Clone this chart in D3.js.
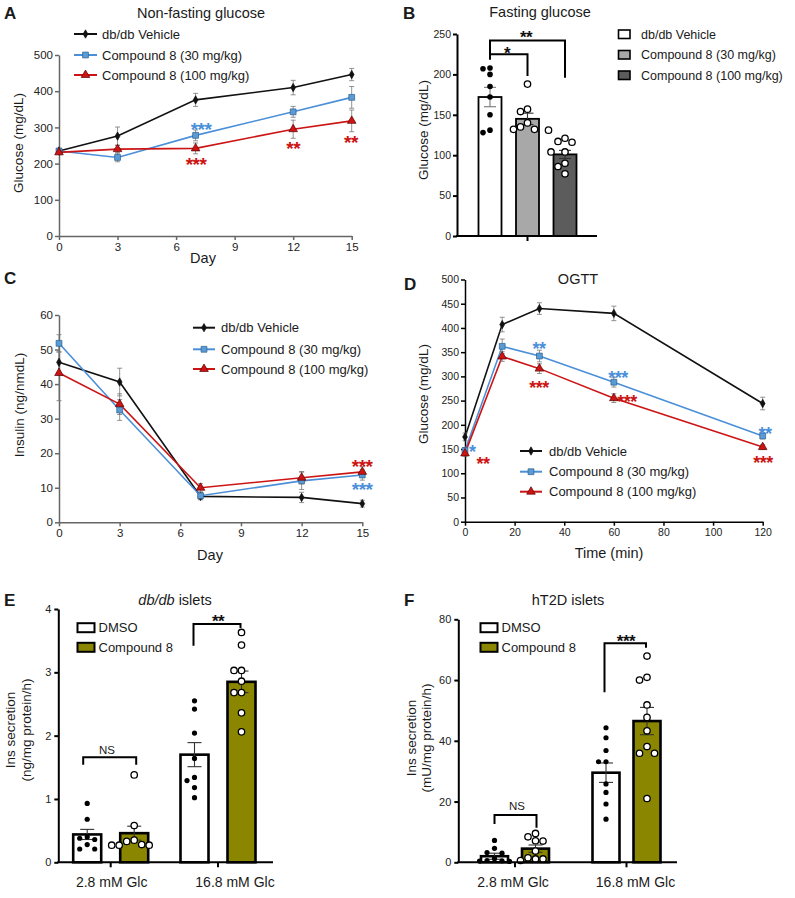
<!DOCTYPE html>
<html><head><meta charset="utf-8">
<script src="https://cdn.jsdelivr.net/npm/d3@7"></script>
<style>
body{margin:0;background:#fff}
svg{display:block}
text{font-family:"Liberation Sans",Arial,Helvetica,sans-serif;fill:#1a1a1a}
</style>
</head><body>
<svg id="c" width="795" height="898"></svg>
<script>
// ---------------- DATA ----------------
const seriesNames = ["db/db Vehicle", "Compound 8 (30 mg/kg)", "Compound 8 (100 mg/kg)"];

// A: Non-fasting glucose (mg/dL)
const daysA = [0, 3, 7, 12, 15];
const nfgVehicle = [235, 276, 376, 410, 446];
const nfgVehicleErr = [5, 25, 18, 20, 17];
const nfg30 = [235, 217, 278, 343, 383];
const nfg30Err = [5, 12, 15, 15, 30];
const nfg100 = [231, 240, 242, 295, 318];
const nfg100Err = [5, 10, 15, 25, 30];
const ticksADays = [0, 3, 6, 9, 12, 15];
const ticksAGlucose = [0, 100, 200, 300, 400, 500];

// B: Fasting glucose
const groupsB = ["db/db Vehicle", "Compound 8 (30 mg/kg)", "Compound 8 (100 mg/kg)"];
const fgMean = [172, 145, 101];
const fgSem = [12, 7, 5];
const fgPointsVehicle = [208, 207, 200, 185, 172, 150, 131, 128];
const fgPoints30 = [188, 157, 154, 140, 135, 131, 132, 132];
const fgPoints100 = [117, 116, 121, 104, 104, 90, 77, 86];
const ticksBGlucose = [0, 50, 100, 150, 200, 250];

// C: Insulin
const daysC = [0, 3, 7, 12, 15];
const insVehicle = [46.3, 40.6, 7.5, 7.2, 5.4];
const insVehicleErr = [3, 4, 1, 1.5, 1];
const ins30 = [51.8, 32.5, 7.7, 12.0, 13.7];
const ins30Err = [2.5, 3, 1, 2.5, 1.5];
const ins100 = [43.2, 34.2, 10.0, 12.9, 14.6];
const ins100Err = [8, 3, 1.2, 1.8, 1.5];
const ticksCDays = [0, 3, 6, 9, 12, 15];
const ticksCInsulin = [0, 10, 20, 30, 40, 50, 60];

// D: OGTT
const timesD = [0, 15, 30, 60, 120];
const ogttVehicle = [175, 407, 440, 430, 244];
const ogttVehicleErr = [8, 15, 12, 15, 13];
const ogtt30 = [147, 362, 342, 288, 177];
const ogtt30Err = [6, 15, 12, 10, 6];
const ogtt100 = [141, 341, 316, 255, 154];
const ogtt100Err = [6, 10, 10, 9, 5];
const ticksDTime = [0, 20, 40, 60, 80, 100, 120];
const ticksDGlucose = [0, 50, 100, 150, 200, 250, 300, 350, 400, 450, 500];

// E / F: islets
const glcGroups = ["2.8 mM Glc", "16.8 mM Glc"];
const treatments = ["DMSO", "Compound 8"];
const eMean = [[0.44, 0.46], [1.70, 2.85]];
const eSem = [[0.08, 0.11], [0.19, 0.17]];
const ePoints = [
  [[0.93, 0.68, 0.40, 0.38, 0.36, 0.21, 0.21, 0.28], [1.38, 0.58, 0.35, 0.33, 0.27, 0.27, 0.28, 0.27]],
  [[2.55, 2.42, 2.04, 1.64, 1.34, 1.29, 1.18, 1.02], [3.63, 3.43, 3.03, 3.03, 2.86, 2.68, 2.68, 2.36, 2.06]]
];
const ticksE = [0, 1, 2, 3, 4];
const fMean = [[2.0, 4.5], [29.5, 46.5]];
const fSem = [[1.0, 1.2], [3.2, 4.5]];
const fPoints = [
  [[7.2, 4.6, 3.2, 3.0, 1.2, 0.5, 0.4, 0.3, 0.6], [7.1, 8.4, 9.5, 7.0, 3.7, 1.5, 1.1, 1.1, 0.6]],
  [[44.3, 41.0, 36.8, 33.1, 33.1, 25.8, 23.0, 19.2, 14.2], [67.9, 60.9, 60.0, 51.8, 47.7, 43.3, 38.1, 35.9, 35.9, 21.0]]
];
const ticksF = [0, 20, 40, 60, 80];

// significance annotations (data coordinates)
const starsA = [
  {x: 7.28, y: 307, t: "***", s: 1}, {x: 7.02, y: 210, t: "***", s: 2},
  {x: 12.0, y: 254, t: "**", s: 2}, {x: 14.96, y: 273, t: "**", s: 2}
];
const starsC = [{x: 14.99, y: 17.5, t: "***", s: 2}, {x: 14.99, y: 10.8, t: "***", s: 1}];
const starsD = [
  {x: 2.9, y: 154, t: "*", s: 1}, {x: 7.3, y: 130, t: "**", s: 2},
  {x: 29.8, y: 367, t: "**", s: 1}, {x: 29.8, y: 286, t: "***", s: 2},
  {x: 61.7, y: 307, t: "***", s: 1}, {x: 65.3, y: 257, t: "***", s: 2},
  {x: 120.9, y: 191, t: "**", s: 1}, {x: 120.1, y: 131.5, t: "***", s: 2}
];

// ---------------- DRAWING ----------------
const FONT = '"Liberation Sans",Arial,Helvetica,sans-serif';
const svg = d3.select("#c");
const COLORS = ["#111111", "#4a8fd8", "#cc1414"];
const STY = [
  {sym: d3.symbolDiamond, size: 20, fill: "#111", stroke: "#111"},
  {sym: d3.symbolSquare, size: 34, fill: "#5b9bd5", stroke: "#2d5f8f"},
  {sym: d3.symbolTriangle, size: 32, fill: "#cc1414", stroke: "#5a0000"}
];
const fmtInt = d3.format("d");

function txt(x, y, s, fs, opts = {}) {
  const t = svg.append("text").attr("x", x).attr("y", y).attr("font-size", fs)
    .attr("text-anchor", opts.anchor || "middle").text(s);
  if (opts.bold) t.attr("font-weight", "bold");
  if (opts.fill) t.style("fill", opts.fill);
  if (opts.rot) t.attr("transform", `rotate(-90,${x},${y})`).attr("dy", "0.35em");
  return t;
}
function star(x, cy, s, color, fs = 19) {
  svg.append("text").attr("x", x).attr("y", cy + fs * 0.6).attr("font-size", fs)
    .attr("font-weight", "bold").attr("text-anchor", "middle").attr("letter-spacing", -0.5)
    .style("fill", color).text(s);
}
function styleAxis(g, color, w, fs) {
  g.attr("font-family", FONT).attr("font-size", fs);
  g.select(".domain").attr("stroke", color).attr("stroke-width", w);
  g.selectAll(".tick line").attr("stroke", color).attr("stroke-width", w);
  g.selectAll(".tick text").style("fill", "#222");
}

function lineChart(cfg) {
  const {x, y, xTicks, yTicks, xs, series, axisColor, axisW, fs} = cfg;
  const gx = svg.append("g").attr("transform", `translate(0,${y(0)})`)
    .call(d3.axisBottom(x).tickValues(xTicks).tickFormat(fmtInt).tickSize(4).tickSizeOuter(0).tickPadding(3));
  styleAxis(gx, axisColor, axisW, fs);
  const gy = svg.append("g").attr("transform", `translate(${x(0)},0)`)
    .call(d3.axisLeft(y).tickValues(yTicks).tickFormat(fmtInt).tickSize(4).tickSizeOuter(0).tickPadding(2));
  styleAxis(gy, axisColor, axisW, fs);
  const line = d3.line().x(d => x(d.x)).y(d => y(d.v));
  const sets = series.map((s, k) => s.values.map((v, i) => ({x: xs[i], v, e: s.err[i], k})));
  sets.forEach((pts, k) => svg.append("path").datum(pts).attr("d", line)
    .attr("fill", "none").attr("stroke", COLORS[k]).attr("stroke-width", 1.6));
  sets.forEach(pts => {
    const g = svg.append("g").attr("stroke", "#777").attr("stroke-width", 0.8);
    pts.forEach(d => {
      const cx = x(d.x), y1 = y(d.v - d.e), y2 = y(d.v + d.e);
      g.append("line").attr("x1", cx).attr("x2", cx).attr("y1", y1).attr("y2", y2);
      g.append("line").attr("x1", cx - 2.5).attr("x2", cx + 2.5).attr("y1", y1).attr("y2", y1);
      g.append("line").attr("x1", cx - 2.5).attr("x2", cx + 2.5).attr("y1", y2).attr("y2", y2);
    });
  });
  sets.forEach((pts, k) => {
    const st = STY[k];
    svg.append("g").selectAll("path").data(pts).join("path")
      .attr("d", d3.symbol(st.sym, st.size))
      .attr("transform", d => `translate(${x(d.x)},${y(d.v)})`)
      .attr("fill", st.fill).attr("stroke", st.stroke).attr("stroke-width", 0.7);
  });
}
function lineLegend(x1, x2, tx, ys, fs) {
  seriesNames.forEach((n, k) => {
    const yy = ys[k];
    svg.append("line").attr("x1", x1).attr("x2", x2).attr("y1", yy).attr("y2", yy)
      .attr("stroke", COLORS[k]).attr("stroke-width", 2);
    const st = STY[k];
    svg.append("path").attr("d", d3.symbol(st.sym, st.size)).attr("transform", `translate(${(x1 + x2) / 2},${yy})`)
      .attr("fill", st.fill).attr("stroke", st.stroke).attr("stroke-width", 0.7);
    txt(tx, yy + fs * 0.36, n, fs, {anchor: "start"});
  });
}

// beeswarm-ish deterministic placement of dots
function placeDots(vals, y, cx, r, step) {
  const placed = [];
  const order = vals.map((v, i) => i).sort((a, b) => vals[b] - vals[a]);
  order.forEach(i => {
    const py = y(vals[i]);
    const offs = [0, -step, step, -2 * step, 2 * step, -3 * step, 3 * step];
    for (const o of offs) {
      const px = cx + o;
      if (placed.every(p => Math.hypot(p.x - px, p.y - py) > 2 * r + 0.8)) {
        placed.push({x: px, y: py}); break;
      }
    }
  });
  return placed;
}
function drawDots(pts, filled, r) {
  svg.append("g").selectAll("circle").data(pts).join("circle")
    .attr("cx", d => d.x).attr("cy", d => d.y).attr("r", r)
    .attr("fill", filled ? "#000" : "#fff").attr("stroke", "#000").attr("stroke-width", filled ? 0 : 1.3);
}
function errBar(cx, yLo, yHi, half, color) {
  const g = svg.append("g").attr("stroke", color).attr("stroke-width", 1.1);
  g.append("line").attr("x1", cx).attr("x2", cx).attr("y1", yLo).attr("y2", yHi);
  g.append("line").attr("x1", cx - half).attr("x2", cx + half).attr("y1", yLo).attr("y2", yLo);
  g.append("line").attr("x1", cx - half).attr("x2", cx + half).attr("y1", yHi).attr("y2", yHi);
}
function bracket(x1, x2, yTop, yL, yR) {
  svg.append("path").attr("d", `M${x1},${yL}V${yTop}H${x2}V${yR}`)
    .attr("fill", "none").attr("stroke", "#000").attr("stroke-width", 2);
}

// ===== Panel A =====
{
  const x = d3.scaleLinear([0, 15], [59, 351.7]);
  const y = d3.scaleLinear([0, 500], [236, 55]);
  lineChart({x, y, xTicks: ticksADays, yTicks: ticksAGlucose, xs: daysA, axisColor: "#666", axisW: 1.5, fs: 11.5,
    series: [{values: nfgVehicle, err: nfgVehicleErr}, {values: nfg30, err: nfg30Err}, {values: nfg100, err: nfg100Err}]});
  lineLegend(74, 97, 102, [34, 55, 75], 13);
  starsA.forEach(s => star(x(s.x), y(s.y), s.t, COLORS[s.s]));
  txt(201, 18, "Non-fasting glucose", 14.5);
  txt(203, 263, "Day", 14.5);
  txt(18, 143, "Glucose (mg/dL)", 13.5, {rot: true});
  txt(4, 19, "A", 17, {anchor: "start", bold: true});
}

// ===== Panel B =====
{
  const y = d3.scaleLinear([0, 250], [236, 34]);
  const x = d3.scalePoint(groupsB, [490, 565]);
  const bw = 23;
  const fills = ["#ffffff", "#a8a8a8", "#5c5c5c"];
  const pts = [fgPointsVehicle, fgPoints30, fgPoints100];
  groupsB.forEach((g, i) => {
    svg.append("rect").attr("x", x(g) - bw / 2).attr("y", y(fgMean[i])).attr("width", bw)
      .attr("height", y(0) - y(fgMean[i])).attr("fill", fills[i]).attr("stroke", "#000").attr("stroke-width", 1.8);
  });
  groupsB.forEach((g, i) => {
    errBar(x(g), y(fgMean[i] - fgSem[i]), y(fgMean[i] + fgSem[i]), 6, i === 0 ? "#777" : "#333");
    drawDots(placeDots(pts[i], y, x(g), i === 0 ? 2.8 : 3.2, 7), i === 0, i === 0 ? 2.8 : 3.2);
  });
  const gy = svg.append("g").attr("transform", "translate(457,0)")
    .call(d3.axisLeft(y).tickValues(ticksBGlucose).tickFormat(fmtInt).tickSize(4).tickSizeOuter(0).tickPadding(2));
  styleAxis(gy, "#000", 2, 10.5);
  svg.append("line").attr("x1", 456).attr("x2", 597).attr("y1", y(0)).attr("y2", y(0)).attr("stroke", "#000").attr("stroke-width", 2);
  svg.append("line").attr("x1", x(groupsB[1])).attr("x2", x(groupsB[1])).attr("y1", y(0)).attr("y2", y(0) + 5).attr("stroke", "#000").attr("stroke-width", 2);
  // significance
  bracket(x(groupsB[0]), x(groupsB[2]), y(242), y(225), y(196));
  bracket(x(groupsB[0]), x(groupsB[1]), y(225), y(218), y(198));
  star(507, 48.5, "*", "#111", 17);
  star(526, 33, "**", "#111", 17);
  // legend
  const ly = [34, 54.5, 75];
  groupsB.forEach((g, i) => {
    svg.append("rect").attr("x", 618.5).attr("y", ly[i] - 4).attr("width", 11.5).attr("height", 8.5)
      .attr("fill", fills[i]).attr("stroke", "#000").attr("stroke-width", 1.6);
    txt(641, ly[i] + 4.5, g, 12.5, {anchor: "start"});
  });
  txt(540, 17, "Fasting glucose", 14.5);
  txt(423, 130, "Glucose (mg/dL)", 13.5, {rot: true});
  txt(403, 19, "B", 17, {anchor: "start", bold: true});
}

// ===== Panel C =====
{
  const x = d3.scaleLinear([0, 15], [59, 362.3]);
  const y = d3.scaleLinear([0, 60], [522.3, 315]);
  lineChart({x, y, xTicks: ticksCDays, yTicks: ticksCInsulin, xs: daysC, axisColor: "#666", axisW: 1.5, fs: 11.5,
    series: [{values: insVehicle, err: insVehicleErr}, {values: ins30, err: ins30Err}, {values: ins100, err: ins100Err}]});
  lineLegend(193, 215, 221, [327.7, 349.3, 369], 13);
  starsC.forEach(s => star(x(s.x), y(s.y), s.t, COLORS[s.s]));
  txt(210, 560, "Day", 14.5);
  txt(19, 405, "Insulin (ng/nmdL)", 13.5, {rot: true});
  txt(4, 284, "C", 17, {anchor: "start", bold: true});
}

// ===== Panel D =====
{
  const x = d3.scaleLinear([0, 120], [465, 762.7]);
  const y = d3.scaleLinear([0, 500], [521.7, 279.5]);
  lineChart({x, y, xTicks: ticksDTime, yTicks: ticksDGlucose, xs: timesD, axisColor: "#000", axisW: 1.5, fs: 10.5,
    series: [{values: ogttVehicle, err: ogttVehicleErr}, {values: ogtt30, err: ogtt30Err}, {values: ogtt100, err: ogtt100Err}]});
  lineLegend(520, 542, 549, [451, 471.7, 491.7], 13);
  starsD.forEach(s => star(x(s.x), y(s.y), s.t, COLORS[s.s], 18));
  txt(578, 284, "OGTT", 14.5);
  txt(609, 558, "Time (min)", 14.5);
  txt(423, 394, "Glucose (mg/dL)", 13.5, {rot: true});
  txt(404, 290, "D", 17, {anchor: "start", bold: true});
}

// ===== Panels E / F =====
function islets(cfg) {
  const {y, gx, inner, bw, mean, sem, points, ticks, axisX0, axisX1, labelDx} = cfg;
  const fills = ["#ffffff", "#8b8600"];
  glcGroups.forEach((g, gi) => {
    treatments.forEach((t, ti) => {
      const cx = gx(g) + inner(t);
      svg.append("rect").attr("x", cx - bw / 2).attr("y", y(mean[gi][ti])).attr("width", bw)
        .attr("height", y(0) - y(mean[gi][ti])).attr("fill", fills[ti]).attr("stroke", "#000").attr("stroke-width", 2.6);
    });
  });
  glcGroups.forEach((g, gi) => {
    treatments.forEach((t, ti) => {
      const cx = gx(g) + inner(t);
      errBar(cx, y(mean[gi][ti] - sem[gi][ti]), y(mean[gi][ti] + sem[gi][ti]), 7, "#333");
      drawDots(placeDots(points[gi][ti], y, cx, ti === 0 ? 2.6 : 3.2, 7.5), ti === 0, ti === 0 ? 2.6 : 3.2);
    });
  });
  const gyA = svg.append("g").attr("transform", `translate(${axisX0},0)`)
    .call(d3.axisLeft(y).tickValues(ticks).tickFormat(fmtInt).tickSize(4).tickSizeOuter(0).tickPadding(3));
  styleAxis(gyA, "#000", 2, 11);
  svg.append("line").attr("x1", axisX0 - 1).attr("x2", axisX1).attr("y1", y(0)).attr("y2", y(0)).attr("stroke", "#000").attr("stroke-width", 2);
  glcGroups.forEach((g, gi) => {
    svg.append("line").attr("x1", gx(g)).attr("x2", gx(g)).attr("y1", y(0)).attr("y2", y(0) + 5).attr("stroke", "#000").attr("stroke-width", 2);
    txt(gx(g) + labelDx[gi], 887, g, 14);
  });
  const lx = cfg.legendX;
  treatments.forEach((t, ti) => {
    const ly = [627.7, 647.3][ti];
    svg.append("rect").attr("x", lx).attr("y", ly - 4.5).attr("width", 17).attr("height", 9)
      .attr("fill", fills[ti]).attr("stroke", "#000").attr("stroke-width", 2);
    txt(lx + 21, ly + 4.7, t, 13, {anchor: "start"});
  });
}
{
  const y = d3.scaleLinear([0, 4], [862.3, 609]);
  const gx = d3.scalePoint(glcGroups, [110.7, 218]);
  const inner = d3.scalePoint(treatments, [-23.5, 23.5]);
  islets({y, gx, inner, bw: 28, mean: eMean, sem: eSem, points: ePoints, ticks: ticksE, axisX0: 58.3, axisX1: 273, labelDx: [1, 17], legendX: 77.5});
  const c = (gi, ti) => gx(glcGroups[gi]) + inner(treatments[ti]);
  bracket(c(0, 0) - 4, c(0, 1) + 2, y(1.66), y(1.54), y(1.54));
  txt(107, 754, "NS", 11.5);
  bracket(c(1, 0) - 1, c(1, 1) - 1, y(3.765), y(3.42), y(3.70));
  star(218, 617, "**", "#111", 17);
  const t = svg.append("text").attr("x", 175).attr("y", 605).attr("font-size", 14.5).attr("text-anchor", "middle");
  t.append("tspan").attr("font-style", "italic").text("db/db");
  t.append("tspan").text(" islets");
  txt(10, 730, "Ins secretion", 13.5, {rot: true});
  txt(26, 730, "(ng/mg protein/h)", 13.5, {rot: true});
  txt(4, 606, "E", 17, {anchor: "start", bold: true});
}
{
  const y = d3.scaleLinear([0, 80], [862.3, 619.3]);
  const gx = d3.scalePoint(glcGroups, [515, 626.5]);
  const inner = d3.scalePoint(treatments, [-20.5, 20.5]);
  islets({y, gx, inner, bw: 27, mean: fMean, sem: fSem, points: fPoints, ticks: ticksF, axisX0: 458.3, axisX1: 677, labelDx: [-2, 9], legendX: 480.5});
  const c = (gi, ti) => gx(glcGroups[gi]) + inner(treatments[ti]);
  bracket(c(0, 0), c(0, 1) + 1, y(15.6), y(12.6), y(11.4));
  txt(517, 810, "NS", 11.5);
  bracket(c(1, 0) - 1.5, c(1, 1) - 1, y(72.1), y(56.0), y(70.6));
  star(626, 636.7, "***", "#111", 17);
  txt(568, 605, "hT2D islets", 14.5);
  txt(411, 738, "Ins secretion", 13.5, {rot: true});
  txt(426, 738, "(mU/mg protein/h)", 13.5, {rot: true});
  txt(404, 606, "F", 17, {anchor: "start", bold: true});
}
</script>
</body></html>
